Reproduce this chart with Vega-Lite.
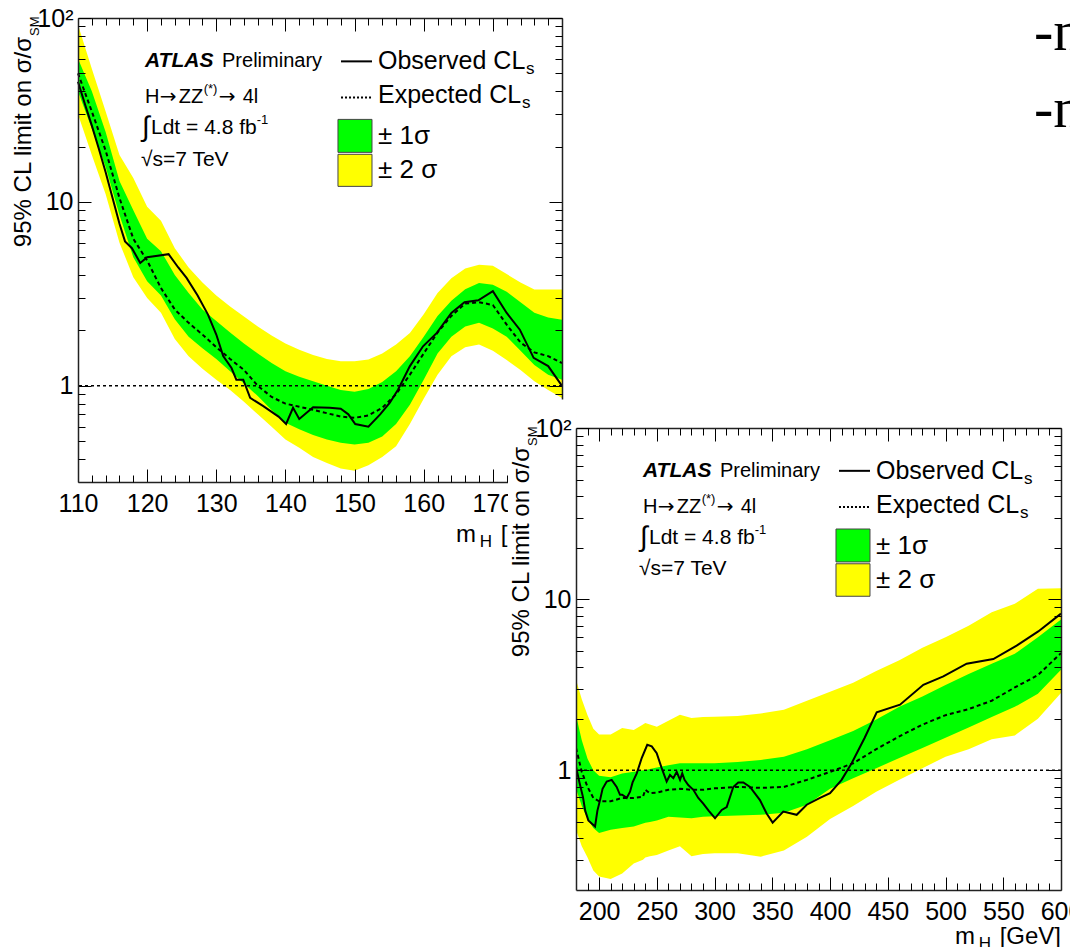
{
"$schema": "https://vega.github.io/schema/vega-lite/v6.json",
"background": "white",
"autosize": {"type": "pad"},
"padding": {"left": 12, "top": 6, "right": -12, "bottom": -5},
"config": {"view": {"stroke": null}, "font": "Liberation Sans"},
"columns": 2,
"spacing": {"row": 0, "column": 14},
"bounds": "flush",
"align": "each",
"datasets": {
"band1": [
{"x":110,"lo2":30,"lo1":40,"exp":50,"hi1":60,"hi2":92},
{"x":112,"lo2":18,"lo1":25,"exp":31,"hi1":40,"hi2":53},
{"x":114,"lo2":11,"lo1":15.5,"exp":19,"hi1":24,"hi2":31},
{"x":116,"lo2":6.0,"lo1":8.5,"exp":10.5,"hi1":13,"hi2":18},
{"x":118,"lo2":3.9,"lo1":5.0,"exp":6.3,"hi1":9.0,"hi2":13.5},
{"x":120,"lo2":3.0,"lo1":3.7,"exp":4.8,"hi1":6.3,"hi2":9.4},
{"x":122,"lo2":2.5,"lo1":3.1,"exp":3.4,"hi1":5.4,"hi2":7.9},
{"x":124,"lo2":1.8,"lo1":2.3,"exp":2.6,"hi1":4.0,"hi2":5.6},
{"x":126,"lo2":1.45,"lo1":1.85,"exp":2.2,"hi1":3.2,"hi2":4.4},
{"x":128,"lo2":1.24,"lo1":1.6,"exp":1.9,"hi1":2.6,"hi2":3.65},
{"x":130,"lo2":1.08,"lo1":1.4,"exp":1.62,"hi1":2.25,"hi2":3.1},
{"x":132,"lo2":0.95,"lo1":1.2,"exp":1.4,"hi1":1.95,"hi2":2.7},
{"x":134,"lo2":0.82,"lo1":1.03,"exp":1.22,"hi1":1.7,"hi2":2.38},
{"x":136,"lo2":0.70,"lo1":0.88,"exp":1.0,"hi1":1.5,"hi2":2.1},
{"x":138,"lo2":0.60,"lo1":0.74,"exp":0.87,"hi1":1.33,"hi2":1.88},
{"x":140,"lo2":0.51,"lo1":0.63,"exp":0.80,"hi1":1.2,"hi2":1.7},
{"x":142,"lo2":0.46,"lo1":0.58,"exp":0.77,"hi1":1.12,"hi2":1.57},
{"x":144,"lo2":0.41,"lo1":0.54,"exp":0.74,"hi1":1.06,"hi2":1.47},
{"x":146,"lo2":0.38,"lo1":0.51,"exp":0.71,"hi1":1.0,"hi2":1.40},
{"x":148,"lo2":0.355,"lo1":0.49,"exp":0.68,"hi1":0.95,"hi2":1.36},
{"x":150,"lo2":0.345,"lo1":0.48,"exp":0.67,"hi1":0.93,"hi2":1.36},
{"x":152,"lo2":0.37,"lo1":0.49,"exp":0.69,"hi1":0.96,"hi2":1.39},
{"x":154,"lo2":0.41,"lo1":0.53,"exp":0.76,"hi1":1.05,"hi2":1.5},
{"x":156,"lo2":0.47,"lo1":0.62,"exp":0.9,"hi1":1.2,"hi2":1.68},
{"x":158,"lo2":0.62,"lo1":0.79,"exp":1.15,"hi1":1.45,"hi2":1.94},
{"x":160,"lo2":0.85,"lo1":1.08,"exp":1.5,"hi1":1.85,"hi2":2.45},
{"x":162,"lo2":1.15,"lo1":1.5,"exp":1.95,"hi1":2.4,"hi2":3.2},
{"x":164,"lo2":1.45,"lo1":1.85,"exp":2.4,"hi1":2.9,"hi2":3.85},
{"x":166,"lo2":1.62,"lo1":2.1,"exp":2.8,"hi1":3.35,"hi2":4.35},
{"x":168,"lo2":1.68,"lo1":2.2,"exp":2.85,"hi1":3.62,"hi2":4.55},
{"x":170,"lo2":1.55,"lo1":2.05,"exp":2.75,"hi1":3.55,"hi2":4.5},
{"x":172,"lo2":1.38,"lo1":1.85,"exp":2.15,"hi1":3.25,"hi2":4.05},
{"x":174,"lo2":1.22,"lo1":1.55,"exp":1.72,"hi1":2.85,"hi2":3.65},
{"x":176,"lo2":1.06,"lo1":1.3,"exp":1.52,"hi1":2.5,"hi2":3.34},
{"x":178,"lo2":0.95,"lo1":1.15,"exp":1.45,"hi1":2.35,"hi2":3.34},
{"x":180,"lo2":0.86,"lo1":1.08,"exp":1.33,"hi1":2.29,"hi2":3.34}
],
"obs1": [
{"x":110,"y":45},{"x":111,"y":34},{"x":112,"y":26},{"x":113,"y":19.5},{"x":114,"y":14.5},{"x":115,"y":10.5},{"x":116,"y":7.6},{"x":116.8,"y":6.1},{"x":117.8,"y":5.6},{"x":119,"y":4.66},{"x":120,"y":5.0},{"x":123.1,"y":5.2},{"x":124.5,"y":4.4},{"x":125.7,"y":3.86},{"x":127.3,"y":3.1},{"x":128.8,"y":2.44},{"x":130,"y":1.9},{"x":131,"y":1.45},{"x":132.2,"y":1.25},{"x":132.9,"y":1.08},{"x":133.9,"y":1.08},{"x":134.9,"y":0.86},{"x":136.8,"y":0.775},{"x":139,"y":0.68},{"x":140.1,"y":0.62},{"x":141.1,"y":0.76},{"x":142,"y":0.66},{"x":144,"y":0.765},{"x":146.4,"y":0.76},{"x":148,"y":0.75},{"x":149.1,"y":0.70},{"x":150.1,"y":0.62},{"x":152,"y":0.60},{"x":153.7,"y":0.70},{"x":155.1,"y":0.81},{"x":156.3,"y":0.955},{"x":158,"y":1.28},{"x":159.9,"y":1.64},{"x":161.9,"y":1.94},{"x":164,"y":2.49},{"x":165.9,"y":2.85},{"x":167.9,"y":2.92},{"x":170,"y":3.27},{"x":172,"y":2.49},{"x":173.9,"y":2.02},{"x":175.9,"y":1.42},{"x":178,"y":1.28},{"x":180,"y":1.0}
],
"band2": [
{"x":180,"lo2":0.45,"lo1":0.78,"exp":1.35,"hi1":2.1,"hi2":3.4},
{"x":185,"lo2":0.36,"lo1":0.62,"exp":0.98,"hi1":1.5,"hi2":2.6},
{"x":190,"lo2":0.31,"lo1":0.52,"exp":0.8,"hi1":1.17,"hi2":2.1},
{"x":195,"lo2":0.26,"lo1":0.46,"exp":0.69,"hi1":1.0,"hi2":1.75},
{"x":200,"lo2":0.24,"lo1":0.43,"exp":0.66,"hi1":0.93,"hi2":1.62},
{"x":210,"lo2":0.232,"lo1":0.45,"exp":0.66,"hi1":0.91,"hi2":1.62},
{"x":220,"lo2":0.25,"lo1":0.46,"exp":0.69,"hi1":0.96,"hi2":1.77},
{"x":230,"lo2":0.286,"lo1":0.47,"exp":0.69,"hi1":0.98,"hi2":1.72},
{"x":238,"lo2":0.30,"lo1":0.49,"exp":0.70,"hi1":1.0,"hi2":1.85},
{"x":240,"lo2":0.31,"lo1":0.495,"exp":0.77,"hi1":1.0,"hi2":1.89},
{"x":244,"lo2":0.315,"lo1":0.50,"exp":0.735,"hi1":1.02,"hi2":1.85},
{"x":250,"lo2":0.32,"lo1":0.51,"exp":0.74,"hi1":1.04,"hi2":1.8},
{"x":260,"lo2":0.34,"lo1":0.535,"exp":0.77,"hi1":1.07,"hi2":1.95},
{"x":270,"lo2":0.36,"lo1":0.53,"exp":0.78,"hi1":1.1,"hi2":2.11},
{"x":280,"lo2":0.315,"lo1":0.525,"exp":0.77,"hi1":1.1,"hi2":2.02},
{"x":290,"lo2":0.325,"lo1":0.535,"exp":0.77,"hi1":1.1,"hi2":2.05},
{"x":300,"lo2":0.328,"lo1":0.54,"exp":0.785,"hi1":1.1,"hi2":2.06},
{"x":320,"lo2":0.328,"lo1":0.545,"exp":0.8,"hi1":1.12,"hi2":2.08},
{"x":340,"lo2":0.313,"lo1":0.55,"exp":0.79,"hi1":1.15,"hi2":2.15},
{"x":360,"lo2":0.34,"lo1":0.565,"exp":0.8,"hi1":1.2,"hi2":2.26},
{"x":380,"lo2":0.41,"lo1":0.63,"exp":0.88,"hi1":1.33,"hi2":2.55},
{"x":400,"lo2":0.52,"lo1":0.78,"exp":0.98,"hi1":1.5,"hi2":2.88},
{"x":420,"lo2":0.62,"lo1":0.9,"exp":1.1,"hi1":1.7,"hi2":3.25},
{"x":440,"lo2":0.75,"lo1":1.03,"exp":1.33,"hi1":1.98,"hi2":3.8},
{"x":460,"lo2":0.88,"lo1":1.18,"exp":1.58,"hi1":2.35,"hi2":4.4},
{"x":480,"lo2":1.03,"lo1":1.35,"exp":1.85,"hi1":2.7,"hi2":5.2},
{"x":500,"lo2":1.2,"lo1":1.55,"exp":2.1,"hi1":3.15,"hi2":6.0},
{"x":520,"lo2":1.33,"lo1":1.78,"exp":2.28,"hi1":3.65,"hi2":7.0},
{"x":540,"lo2":1.52,"lo1":2.05,"exp":2.55,"hi1":4.2,"hi2":8.4},
{"x":560,"lo2":1.6,"lo1":2.35,"exp":3.05,"hi1":4.8,"hi2":9.4},
{"x":580,"lo2":2.0,"lo1":2.8,"exp":3.6,"hi1":6.0,"hi2":11.5},
{"x":600,"lo2":2.83,"lo1":3.87,"exp":4.84,"hi1":7.6,"hi2":11.6}
],
"obs2": [
{"x":180,"y":1.05},{"x":183,"y":0.85},{"x":186,"y":0.7},{"x":188,"y":0.58},{"x":190.7,"y":0.51},{"x":193.6,"y":0.49},{"x":196.5,"y":0.47},{"x":198.5,"y":0.58},{"x":200.8,"y":0.67},{"x":203,"y":0.78},{"x":206.6,"y":0.86},{"x":210.9,"y":0.88},{"x":215.2,"y":0.80},{"x":218.1,"y":0.72},{"x":220,"y":0.72},{"x":223.9,"y":0.69},{"x":226.8,"y":0.75},{"x":229,"y":0.85},{"x":232.6,"y":0.96},{"x":236.9,"y":1.18},{"x":241.7,"y":1.41},{"x":245.6,"y":1.38},{"x":249.9,"y":1.26},{"x":254.2,"y":1.03},{"x":258.5,"y":0.86},{"x":261.4,"y":0.94},{"x":264.3,"y":0.90},{"x":267.2,"y":0.98},{"x":270.1,"y":0.88},{"x":272,"y":0.96},{"x":274,"y":0.88},{"x":277.2,"y":0.82},{"x":281.6,"y":0.77},{"x":285.9,"y":0.69},{"x":290.2,"y":0.64},{"x":295,"y":0.58},{"x":300.4,"y":0.525},{"x":306.2,"y":0.587},{"x":310.5,"y":0.61},{"x":316.2,"y":0.80},{"x":320.5,"y":0.85},{"x":324.9,"y":0.85},{"x":330.7,"y":0.80},{"x":339.3,"y":0.67},{"x":345.1,"y":0.56},{"x":350.3,"y":0.495},{"x":359.5,"y":0.574},{"x":371.1,"y":0.55},{"x":379.8,"y":0.63},{"x":391.3,"y":0.69},{"x":400,"y":0.735},{"x":410,"y":0.88},{"x":418.7,"y":1.10},{"x":430,"y":1.55},{"x":440.4,"y":2.18},{"x":460.6,"y":2.42},{"x":480.8,"y":3.16},{"x":498.1,"y":3.54},{"x":518.3,"y":4.2},{"x":541.4,"y":4.47},{"x":561.6,"y":5.35},{"x":580.3,"y":6.48},{"x":600,"y":8.23}
],
"leg1": [
{"x":119.69,"y":58.1,"t":"ATLAS","k":"atlas"},
{"x":130.83,"y":58.1,"t":"Preliminary","k":"txt"},
{"x":119.69,"y":37.0,"t":"H","k":"txt"},
{"x":121.82,"y":37.0,"t":"→","k":"arrow"},
{"x":124.56,"y":37.0,"t":"ZZ","k":"txt"},
{"x":128.18,"y":37.0,"t":"(*)","k":"sup"},
{"x":130.35,"y":37.0,"t":"→","k":"arrow"},
{"x":133.82,"y":37.0,"t":"4l","k":"txt"},
{"x":119.26,"y":25.1,"t":"∫","k":"int"},
{"x":120.56,"y":25.1,"t":"Ldt = 4.8 fb","k":"txt21"},
{"x":135.85,"y":25.1,"t":"-1","k":"sup"},
{"x":119.11,"y":17.0,"t":"√s=7 TeV","k":"txt21"},
{"x":153.39,"y":58.1,"t":"Observed CL","k":"big"},
{"x":174.80,"y":58.1,"t":"s","k":"sub"},
{"x":153.39,"y":37.96,"t":"Expected CL","k":"big"},
{"x":174.22,"y":37.96,"t":"s","k":"sub"},
{"x":153.39,"y":22.7,"t":"± 1σ","k":"big2"},
{"x":153.39,"y":14.85,"t":"± 2 σ","k":"big2"}
],
"leg2": [
{"x":238.02,"y":56.2,"t":"ATLAS","k":"atlas"},
{"x":304.70,"y":56.2,"t":"Preliminary","k":"txt"},
{"x":238.02,"y":34.6,"t":"H","k":"txt"},
{"x":250.75,"y":34.6,"t":"→","k":"arrow"},
{"x":267.20,"y":34.6,"t":"ZZ","k":"txt"},
{"x":288.85,"y":34.6,"t":"(*)","k":"sup"},
{"x":301.84,"y":34.6,"t":"→","k":"arrow"},
{"x":322.62,"y":34.6,"t":"4l","k":"txt"},
{"x":235.42,"y":22.8,"t":"∫","k":"int"},
{"x":243.21,"y":22.8,"t":"Ldt = 4.8 fb","k":"txt21"},
{"x":334.75,"y":22.8,"t":"-1","k":"sup"},
{"x":234.55,"y":15.0,"t":"√s=7 TeV","k":"txt21"},
{"x":439.78,"y":56.2,"t":"Observed CL","k":"big"},
{"x":567.95,"y":56.2,"t":"s","k":"sub"},
{"x":439.78,"y":35.6,"t":"Expected CL","k":"big"},
{"x":564.48,"y":35.6,"t":"s","k":"sub"},
{"x":439.78,"y":20.5,"t":"± 1σ","k":"big2"},
{"x":439.78,"y":12.95,"t":"± 2 σ","k":"big2"}
],
"legl1": [{"x":148.04,"x2":152.52,"y":58.1,"s":"obs"},{"x":148.04,"x2":152.52,"y":37.0,"s":"exp"}],
"legl2": [{"x":407.75,"x2":434.59,"y":56.2,"s":"obs"},{"x":407.75,"x2":434.59,"y":34.6,"s":"exp"}],
"legb1": [{"x":147.60,"x2":152.52,"y":28.1,"y2":18.6,"c":"g"},{"x":147.60,"x2":152.52,"y":18.15,"y2":12.15,"c":"y"}],
"legb2": [{"x":405.15,"x2":434.59,"y":25.7,"y2":16.5,"c":"g"},{"x":405.15,"x2":434.59,"y":16.1,"y2":10.4,"c":"y"}]
},
"concat": [
{
"width": 484, "height": 410,
"layer": [
{"data":{"name":"band1"},"mark":{"type":"area","color":"#ffff00"},
 "encoding":{
  "x":{"field":"x","type":"quantitative","scale":{"domain":[110,180],"nice":false,"zero":false},
       "axis":{"orient":"bottom","offset":54,"values":[110,120,130,140,150,160,170,180],"ticks":false,"domain":false,"grid":false,"labelFontSize":25,"labelFont":"Liberation Sans","labelColor":"black","labelPadding":9,"labelFlush":false,"labelOverlap":false,"format":"d","title":null,"zindex":1}},
  "y":{"field":"lo2","type":"quantitative","scale":{"type":"log","domain":[0.3,100],"nice":false,"range":[464,0]},
       "axis":{"orient":"left","values":[1,10,100],"ticks":false,"domain":false,"grid":false,"labelFontSize":25,"labelFont":"Liberation Sans","labelColor":"black","labelPadding":5,"labelFlush":false,"labelOverlap":false,"labelExpr":"datum.value >= 99 ? '10²' : datum.value >= 9 ? '10' : '1'","title":null,"zindex":1}},
  "y2":{"field":"hi2"}}},
{"data":{"name":"band1"},"mark":{"type":"area","color":"#00ff00"},
 "encoding":{
  "x":{"field":"x","type":"quantitative","scale":{"domain":[110,180],"nice":false,"zero":false},
       "axis":{"orient":"bottom","offset":54,"values":[110,120,130,140,150,160,170,180],"ticks":true,"tickSize":-13,"tickColor":"black","tickWidth":1,"labels":false,"domain":true,"domainColor":"#222","domainWidth":1.5,"grid":false,"title":null,"zindex":1}},
  "y":{"field":"lo1","type":"quantitative","scale":{"type":"log","domain":[0.3,100],"nice":false,"range":[464,0]},
       "axis":{"orient":"left","values":[1,10,100],"ticks":true,"tickSize":-13,"tickColor":"black","tickWidth":1,"labels":false,"domain":true,"domainColor":"#222","domainWidth":1.5,"grid":false,"title":null,"zindex":1}},
  "y2":{"field":"hi1"}}},
{"data":{"values":[{}]},"mark":{"type":"rule","color":"black","strokeWidth":1.5,"strokeDash":[3,3]},
 "encoding":{"y":{"datum":1,"type":"quantitative","scale":{"type":"log","domain":[0.3,100],"nice":false,"range":[464,0]},"axis":null}}},
{"data":{"name":"band1"},"mark":{"type":"line","color":"black","strokeWidth":2,"strokeDash":[4,3]},
 "encoding":{
  "x":{"field":"x","type":"quantitative","scale":{"domain":[110,180],"nice":false,"zero":false},
       "axis":{"orient":"bottom","offset":54,"values":[112,114,116,118,122,124,126,128,132,134,136,138,142,144,146,148,152,154,156,158,162,164,166,168,172,174,176,178],"ticks":true,"tickSize":-7,"tickColor":"black","tickWidth":1,"labels":false,"domain":false,"grid":false,"title":null,"zindex":1}},
  "y":{"field":"exp","type":"quantitative","scale":{"type":"log","domain":[0.3,100],"nice":false,"range":[464,0]},
       "axis":{"orient":"left","values":[0.4,0.5,0.6,0.7,0.8,0.9,2,3,4,5,6,7,8,9,20,30,40,50,60,70,80,90],"ticks":true,"tickSize":-7,"tickColor":"black","tickWidth":1,"labels":false,"domain":false,"grid":false,"title":null,"zindex":1}}}},
{"data":{"name":"obs1"},"mark":{"type":"line","color":"black","strokeWidth":2},
 "encoding":{
  "x":{"field":"x","type":"quantitative","scale":{"domain":[110,180],"nice":false,"zero":false},
       "axis":{"orient":"top","values":[110,120,130,140,150,160,170,180],"ticks":true,"tickSize":-13,"tickColor":"black","tickWidth":1,"labels":false,"domain":true,"domainColor":"#222","domainWidth":1.5,"grid":false,"title":null,"zindex":1}},
  "y":{"field":"y","type":"quantitative","scale":{"type":"log","domain":[0.3,100],"nice":false,"range":[464,0]},
       "axis":{"orient":"right","values":[1,10,100],"ticks":true,"tickSize":-13,"tickColor":"black","tickWidth":1,"labels":false,"domain":true,"domainColor":"#222","domainWidth":1.5,"grid":false,"title":null,"zindex":1}}}},
{"data":{"name":"legl1"},"transform":[{"filter":"datum.s === 'obs'"}],"mark":{"type":"rule","color":"black","strokeWidth":2},
 "encoding":{
  "x":{"field":"x","type":"quantitative","scale":{"domain":[110,180],"nice":false,"zero":false},
       "axis":{"orient":"top","values":[112,114,116,118,122,124,126,128,132,134,136,138,142,144,146,148,152,154,156,158,162,164,166,168,172,174,176,178],"ticks":true,"tickSize":-7,"tickColor":"black","tickWidth":1,"labels":false,"domain":false,"grid":false,"title":null,"zindex":1}},
  "x2":{"field":"x2"},
  "y":{"field":"y","type":"quantitative","scale":{"type":"log","domain":[0.3,100],"nice":false,"range":[464,0]},
       "axis":{"orient":"right","values":[0.4,0.5,0.6,0.7,0.8,0.9,2,3,4,5,6,7,8,9,20,30,40,50,60,70,80,90],"ticks":true,"tickSize":-7,"tickColor":"black","tickWidth":1,"labels":false,"domain":false,"grid":false,"title":null,"zindex":1}}}},
{"data":{"name":"legl1"},"transform":[{"filter":"datum.s === 'exp'"}],"mark":{"type":"rule","color":"black","strokeWidth":2,"strokeDash":[2,2]},
 "encoding":{
  "x":{"field":"x","type":"quantitative","scale":{"domain":[110,180],"nice":false,"zero":false},"axis":null},
  "x2":{"field":"x2"},
  "y":{"field":"y","type":"quantitative","scale":{"type":"log","domain":[0.3,100],"nice":false,"range":[464,0]},"axis":null}}},
{"data":{"name":"legb1"},"mark":{"type":"rect","stroke":"#444","strokeWidth":1},
 "encoding":{
  "x":{"field":"x","type":"quantitative","scale":{"domain":[110,180],"nice":false,"zero":false},"axis":null},
  "x2":{"field":"x2"},
  "y":{"field":"y","type":"quantitative","scale":{"type":"log","domain":[0.3,100],"nice":false,"range":[464,0]},"axis":null},
  "y2":{"field":"y2"},
  "color":{"field":"c","type":"nominal","scale":{"domain":["g","y"],"range":["#00ff00","#ffff00"]},"legend":null}}},
{"data":{"name":"leg1"},"transform":[{"filter":"datum.k === 'atlas'"}],"mark":{"type":"text","align":"left","baseline":"middle","fontSize":21,"fontWeight":"bold","fontStyle":"italic","color":"black"},
 "encoding":{"x":{"field":"x","type":"quantitative","scale":{"domain":[110,180],"nice":false,"zero":false},"axis":null},"y":{"field":"y","type":"quantitative","scale":{"type":"log","domain":[0.3,100],"nice":false,"range":[464,0]},"axis":null},"text":{"field":"t"}}},
{"data":{"name":"leg1"},"transform":[{"filter":"datum.k === 'txt'"}],"mark":{"type":"text","align":"left","baseline":"middle","fontSize":20,"color":"black"},
 "encoding":{"x":{"field":"x","type":"quantitative","scale":{"domain":[110,180],"nice":false,"zero":false},"axis":null},"y":{"field":"y","type":"quantitative","scale":{"type":"log","domain":[0.3,100],"nice":false,"range":[464,0]},"axis":null},"text":{"field":"t"}}},
{"data":{"name":"leg1"},"transform":[{"filter":"datum.k === 'arrow'"}],"mark":{"type":"text","align":"left","baseline":"middle","fontSize":20,"font":"DejaVu Sans","color":"black"},
 "encoding":{"x":{"field":"x","type":"quantitative","scale":{"domain":[110,180],"nice":false,"zero":false},"axis":null},"y":{"field":"y","type":"quantitative","scale":{"type":"log","domain":[0.3,100],"nice":false,"range":[464,0]},"axis":null},"text":{"field":"t"}}},
{"data":{"name":"leg1"},"transform":[{"filter":"datum.k === 'txt21'"}],"mark":{"type":"text","align":"left","baseline":"middle","fontSize":21,"color":"black"},
 "encoding":{"x":{"field":"x","type":"quantitative","scale":{"domain":[110,180],"nice":false,"zero":false},"axis":null},"y":{"field":"y","type":"quantitative","scale":{"type":"log","domain":[0.3,100],"nice":false,"range":[464,0]},"axis":null},"text":{"field":"t"}}},
{"data":{"name":"leg1"},"transform":[{"filter":"datum.k === 'sup'"}],"mark":{"type":"text","align":"left","baseline":"middle","fontSize":13,"dy":-8,"color":"black"},
 "encoding":{"x":{"field":"x","type":"quantitative","scale":{"domain":[110,180],"nice":false,"zero":false},"axis":null},"y":{"field":"y","type":"quantitative","scale":{"type":"log","domain":[0.3,100],"nice":false,"range":[464,0]},"axis":null},"text":{"field":"t"}}},
{"data":{"name":"leg1"},"transform":[{"filter":"datum.k === 'int'"}],"mark":{"type":"text","align":"left","baseline":"middle","fontSize":28,"color":"black"},
 "encoding":{"x":{"field":"x","type":"quantitative","scale":{"domain":[110,180],"nice":false,"zero":false},"axis":null},"y":{"field":"y","type":"quantitative","scale":{"type":"log","domain":[0.3,100],"nice":false,"range":[464,0]},"axis":null},"text":{"field":"t"}}},
{"data":{"name":"leg1"},"transform":[{"filter":"datum.k === 'big'"}],"mark":{"type":"text","align":"left","baseline":"middle","fontSize":25,"color":"black"},
 "encoding":{"x":{"field":"x","type":"quantitative","scale":{"domain":[110,180],"nice":false,"zero":false},"axis":null},"y":{"field":"y","type":"quantitative","scale":{"type":"log","domain":[0.3,100],"nice":false,"range":[464,0]},"axis":null},"text":{"field":"t"}}},
{"data":{"name":"leg1"},"transform":[{"filter":"datum.k === 'sub'"}],"mark":{"type":"text","align":"left","baseline":"middle","fontSize":17,"dy":8,"color":"black"},
 "encoding":{"x":{"field":"x","type":"quantitative","scale":{"domain":[110,180],"nice":false,"zero":false},"axis":null},"y":{"field":"y","type":"quantitative","scale":{"type":"log","domain":[0.3,100],"nice":false,"range":[464,0]},"axis":null},"text":{"field":"t"}}},
{"data":{"name":"leg1"},"transform":[{"filter":"datum.k === 'big2'"}],"mark":{"type":"text","align":"left","baseline":"middle","fontSize":26,"color":"black"},
 "encoding":{"x":{"field":"x","type":"quantitative","scale":{"domain":[110,180],"nice":false,"zero":false},"axis":null},"y":{"field":"y","type":"quantitative","scale":{"type":"log","domain":[0.3,100],"nice":false,"range":[464,0]},"axis":null},"text":{"field":"t"}}},
{"data":{"values":[{}]},"mark":{"type":"text","text":"95% CL limit on σ/σ","angle":270,"align":"right","baseline":"alphabetic","fontSize":24,"dx":-19,"dy":-47,"color":"black"},
 "encoding":{"x":{"datum":110,"type":"quantitative","scale":{"domain":[110,180],"nice":false,"zero":false},"axis":null},"y":{"datum":100,"type":"quantitative","scale":{"type":"log","domain":[0.3,100],"nice":false,"range":[464,0]},"axis":null}}},
{"data":{"values":[{}]},"mark":{"type":"text","text":"SM","angle":270,"align":"right","baseline":"alphabetic","fontSize":13,"dx":1.6,"dy":-39,"color":"black"},
 "encoding":{"x":{"datum":110,"type":"quantitative","scale":{"domain":[110,180],"nice":false,"zero":false},"axis":null},"y":{"datum":100,"type":"quantitative","scale":{"type":"log","domain":[0.3,100],"nice":false,"range":[464,0]},"axis":null}}},
{"data":{"values":[{}]},"mark":{"type":"text","text":"[GeV]","align":"right","baseline":"alphabetic","fontSize":24,"dy":60,"color":"black"},
 "encoding":{"x":{"datum":180,"type":"quantitative","scale":{"domain":[110,180],"nice":false,"zero":false},"axis":null},"y":{"datum":0.3,"type":"quantitative","scale":{"type":"log","domain":[0.3,100],"nice":false,"range":[464,0]},"axis":null}}},
{"data":{"values":[{}]},"mark":{"type":"text","text":"H","align":"right","baseline":"alphabetic","fontSize":17,"dx":-70,"dy":65,"color":"black"},
 "encoding":{"x":{"datum":180,"type":"quantitative","scale":{"domain":[110,180],"nice":false,"zero":false},"axis":null},"y":{"datum":0.3,"type":"quantitative","scale":{"type":"log","domain":[0.3,100],"nice":false,"range":[464,0]},"axis":null}}},
{"data":{"values":[{}]},"mark":{"type":"text","text":"m","align":"right","baseline":"alphabetic","fontSize":24,"dx":-86,"dy":60,"color":"black"},
 "encoding":{"x":{"datum":180,"type":"quantitative","scale":{"domain":[110,180],"nice":false,"zero":false},"axis":null},"y":{"datum":0.3,"type":"quantitative","scale":{"type":"log","domain":[0.3,100],"nice":false,"range":[464,0]},"axis":null}}}
],
"resolve": {"axis": {"x": "independent", "y": "independent"}}
},
{
"width": 494, "height": 150,
"data": {"values": [{"fx":0.927,"fy":0.789,"t":"-n"},{"fx":0.927,"fy":0.275,"t":"-n"}]},
"mark": {"type":"text","font":"Liberation Serif","fontSize":58,"align":"left","baseline":"alphabetic","color":"black","clip":true},
"encoding": {
 "x":{"field":"fx","type":"quantitative","scale":{"domain":[0,1],"nice":false},"axis":null},
 "y":{"field":"fy","type":"quantitative","scale":{"domain":[0,1],"nice":false},"axis":null},
 "text":{"field":"t"}}
},
{
"width": 1, "height": 1,
"data": {"values": [{"a":1}]},
"mark": {"type":"point","opacity":0}
},
{
"width": 485, "height": 462,
"layer": [
{"data":{"values":[{}]},"mark":{"type":"rect","color":"white","clip":false},
 "encoding":{
  "x":{"datum":121.1,"type":"quantitative","scale":{"domain":[180,600],"nice":false,"zero":false},"axis":null},
  "x2":{"datum":600},
  "y":{"datum":0.2,"type":"quantitative","scale":{"type":"log","domain":[0.2,100],"nice":false},"axis":null},
  "y2":{"datum":146.8}}},
{"data":{"name":"band2"},"mark":{"type":"area","color":"#ffff00","clip":true},
 "encoding":{
  "x":{"field":"x","type":"quantitative","scale":{"domain":[180,600],"nice":false,"zero":false},
       "axis":{"orient":"bottom","values":[200,250,300,350,400,450,500,550,600],"ticks":false,"domain":false,"grid":false,"labelFontSize":25,"labelFont":"Liberation Sans","labelColor":"black","labelPadding":9,"labelFlush":false,"labelOverlap":false,"format":"d","title":null,"zindex":1}},
  "y":{"field":"lo2","type":"quantitative","scale":{"type":"log","domain":[0.2,100],"nice":false},
       "axis":{"orient":"left","values":[1,10,100],"ticks":false,"domain":false,"grid":false,"labelFontSize":25,"labelFont":"Liberation Sans","labelColor":"black","labelPadding":5,"labelFlush":false,"labelOverlap":false,"labelExpr":"datum.value >= 99 ? '10²' : datum.value >= 9 ? '10' : '1'","title":null,"zindex":1}},
  "y2":{"field":"hi2"}}},
{"data":{"name":"band2"},"mark":{"type":"area","color":"#00ff00","clip":true},
 "encoding":{
  "x":{"field":"x","type":"quantitative","scale":{"domain":[180,600],"nice":false,"zero":false},
       "axis":{"orient":"bottom","values":[200,250,300,350,400,450,500,550,600],"ticks":true,"tickSize":-13,"tickColor":"black","tickWidth":1,"labels":false,"domain":true,"domainColor":"#222","domainWidth":1.5,"grid":false,"title":null,"zindex":1}},
  "y":{"field":"lo1","type":"quantitative","scale":{"type":"log","domain":[0.2,100],"nice":false},
       "axis":{"orient":"left","values":[1,10,100],"ticks":true,"tickSize":-13,"tickColor":"black","tickWidth":1,"labels":false,"domain":true,"domainColor":"#222","domainWidth":1.5,"grid":false,"title":null,"zindex":1}},
  "y2":{"field":"hi1"}}},
{"data":{"values":[{}]},"mark":{"type":"rule","color":"black","strokeWidth":1.5,"strokeDash":[3,3]},
 "encoding":{"y":{"datum":1,"type":"quantitative","scale":{"type":"log","domain":[0.2,100],"nice":false},"axis":null}}},
{"data":{"name":"band2"},"mark":{"type":"line","color":"black","strokeWidth":2,"strokeDash":[4,3],"clip":true},
 "encoding":{
  "x":{"field":"x","type":"quantitative","scale":{"domain":[180,600],"nice":false,"zero":false},
       "axis":{"orient":"bottom","values":[190,210,220,230,240,260,270,280,290,310,320,330,340,360,370,380,390,410,420,430,440,460,470,480,490,510,520,530,540,560,570,580,590],"ticks":true,"tickSize":-7,"tickColor":"black","tickWidth":1,"labels":false,"domain":false,"grid":false,"title":null,"zindex":1}},
  "y":{"field":"exp","type":"quantitative","scale":{"type":"log","domain":[0.2,100],"nice":false},
       "axis":{"orient":"left","values":[0.3,0.4,0.5,0.6,0.7,0.8,0.9,2,3,4,5,6,7,8,9,20,30,40,50,60,70,80,90],"ticks":true,"tickSize":-7,"tickColor":"black","tickWidth":1,"labels":false,"domain":false,"grid":false,"title":null,"zindex":1}}}},
{"data":{"name":"obs2"},"mark":{"type":"line","color":"black","strokeWidth":2,"clip":true},
 "encoding":{
  "x":{"field":"x","type":"quantitative","scale":{"domain":[180,600],"nice":false,"zero":false},
       "axis":{"orient":"top","values":[200,250,300,350,400,450,500,550,600],"ticks":true,"tickSize":-13,"tickColor":"black","tickWidth":1,"labels":false,"domain":true,"domainColor":"#222","domainWidth":1.5,"grid":false,"title":null,"zindex":1}},
  "y":{"field":"y","type":"quantitative","scale":{"type":"log","domain":[0.2,100],"nice":false},
       "axis":{"orient":"right","values":[1,10,100],"ticks":true,"tickSize":-13,"tickColor":"black","tickWidth":1,"labels":false,"domain":true,"domainColor":"#222","domainWidth":1.5,"grid":false,"title":null,"zindex":1}}}},
{"data":{"name":"legl2"},"transform":[{"filter":"datum.s === 'obs'"}],"mark":{"type":"rule","color":"black","strokeWidth":2},
 "encoding":{
  "x":{"field":"x","type":"quantitative","scale":{"domain":[180,600],"nice":false,"zero":false},
       "axis":{"orient":"top","values":[190,210,220,230,240,260,270,280,290,310,320,330,340,360,370,380,390,410,420,430,440,460,470,480,490,510,520,530,540,560,570,580,590],"ticks":true,"tickSize":-7,"tickColor":"black","tickWidth":1,"labels":false,"domain":false,"grid":false,"title":null,"zindex":1}},
  "x2":{"field":"x2"},
  "y":{"field":"y","type":"quantitative","scale":{"type":"log","domain":[0.2,100],"nice":false},
       "axis":{"orient":"right","values":[0.3,0.4,0.5,0.6,0.7,0.8,0.9,2,3,4,5,6,7,8,9,20,30,40,50,60,70,80,90],"ticks":true,"tickSize":-7,"tickColor":"black","tickWidth":1,"labels":false,"domain":false,"grid":false,"title":null,"zindex":1}}}},
{"data":{"name":"legl2"},"transform":[{"filter":"datum.s === 'exp'"}],"mark":{"type":"rule","color":"black","strokeWidth":2,"strokeDash":[2,2]},
 "encoding":{
  "x":{"field":"x","type":"quantitative","scale":{"domain":[180,600],"nice":false,"zero":false},"axis":null},
  "x2":{"field":"x2"},
  "y":{"field":"y","type":"quantitative","scale":{"type":"log","domain":[0.2,100],"nice":false},"axis":null}}},
{"data":{"name":"legb2"},"mark":{"type":"rect","stroke":"#444","strokeWidth":1},
 "encoding":{
  "x":{"field":"x","type":"quantitative","scale":{"domain":[180,600],"nice":false,"zero":false},"axis":null},
  "x2":{"field":"x2"},
  "y":{"field":"y","type":"quantitative","scale":{"type":"log","domain":[0.2,100],"nice":false},"axis":null},
  "y2":{"field":"y2"},
  "color":{"field":"c","type":"nominal","scale":{"domain":["g","y"],"range":["#00ff00","#ffff00"]},"legend":null}}},
{"data":{"name":"leg2"},"transform":[{"filter":"datum.k === 'atlas'"}],"mark":{"type":"text","align":"left","baseline":"middle","fontSize":21,"fontWeight":"bold","fontStyle":"italic","color":"black"},
 "encoding":{"x":{"field":"x","type":"quantitative","scale":{"domain":[180,600],"nice":false,"zero":false},"axis":null},"y":{"field":"y","type":"quantitative","scale":{"type":"log","domain":[0.2,100],"nice":false},"axis":null},"text":{"field":"t"}}},
{"data":{"name":"leg2"},"transform":[{"filter":"datum.k === 'txt'"}],"mark":{"type":"text","align":"left","baseline":"middle","fontSize":20,"color":"black"},
 "encoding":{"x":{"field":"x","type":"quantitative","scale":{"domain":[180,600],"nice":false,"zero":false},"axis":null},"y":{"field":"y","type":"quantitative","scale":{"type":"log","domain":[0.2,100],"nice":false},"axis":null},"text":{"field":"t"}}},
{"data":{"name":"leg2"},"transform":[{"filter":"datum.k === 'arrow'"}],"mark":{"type":"text","align":"left","baseline":"middle","fontSize":20,"font":"DejaVu Sans","color":"black"},
 "encoding":{"x":{"field":"x","type":"quantitative","scale":{"domain":[180,600],"nice":false,"zero":false},"axis":null},"y":{"field":"y","type":"quantitative","scale":{"type":"log","domain":[0.2,100],"nice":false},"axis":null},"text":{"field":"t"}}},
{"data":{"name":"leg2"},"transform":[{"filter":"datum.k === 'txt21'"}],"mark":{"type":"text","align":"left","baseline":"middle","fontSize":21,"color":"black"},
 "encoding":{"x":{"field":"x","type":"quantitative","scale":{"domain":[180,600],"nice":false,"zero":false},"axis":null},"y":{"field":"y","type":"quantitative","scale":{"type":"log","domain":[0.2,100],"nice":false},"axis":null},"text":{"field":"t"}}},
{"data":{"name":"leg2"},"transform":[{"filter":"datum.k === 'sup'"}],"mark":{"type":"text","align":"left","baseline":"middle","fontSize":13,"dy":-8,"color":"black"},
 "encoding":{"x":{"field":"x","type":"quantitative","scale":{"domain":[180,600],"nice":false,"zero":false},"axis":null},"y":{"field":"y","type":"quantitative","scale":{"type":"log","domain":[0.2,100],"nice":false},"axis":null},"text":{"field":"t"}}},
{"data":{"name":"leg2"},"transform":[{"filter":"datum.k === 'int'"}],"mark":{"type":"text","align":"left","baseline":"middle","fontSize":28,"color":"black"},
 "encoding":{"x":{"field":"x","type":"quantitative","scale":{"domain":[180,600],"nice":false,"zero":false},"axis":null},"y":{"field":"y","type":"quantitative","scale":{"type":"log","domain":[0.2,100],"nice":false},"axis":null},"text":{"field":"t"}}},
{"data":{"name":"leg2"},"transform":[{"filter":"datum.k === 'big'"}],"mark":{"type":"text","align":"left","baseline":"middle","fontSize":25,"color":"black"},
 "encoding":{"x":{"field":"x","type":"quantitative","scale":{"domain":[180,600],"nice":false,"zero":false},"axis":null},"y":{"field":"y","type":"quantitative","scale":{"type":"log","domain":[0.2,100],"nice":false},"axis":null},"text":{"field":"t"}}},
{"data":{"name":"leg2"},"transform":[{"filter":"datum.k === 'sub'"}],"mark":{"type":"text","align":"left","baseline":"middle","fontSize":17,"dy":8,"color":"black"},
 "encoding":{"x":{"field":"x","type":"quantitative","scale":{"domain":[180,600],"nice":false,"zero":false},"axis":null},"y":{"field":"y","type":"quantitative","scale":{"type":"log","domain":[0.2,100],"nice":false},"axis":null},"text":{"field":"t"}}},
{"data":{"name":"leg2"},"transform":[{"filter":"datum.k === 'big2'"}],"mark":{"type":"text","align":"left","baseline":"middle","fontSize":26,"color":"black"},
 "encoding":{"x":{"field":"x","type":"quantitative","scale":{"domain":[180,600],"nice":false,"zero":false},"axis":null},"y":{"field":"y","type":"quantitative","scale":{"type":"log","domain":[0.2,100],"nice":false},"axis":null},"text":{"field":"t"}}},
{"data":{"values":[{}]},"mark":{"type":"text","text":"95% CL limit on σ/σ","angle":270,"align":"right","baseline":"alphabetic","fontSize":24,"dx":-19,"dy":-47,"color":"black"},
 "encoding":{"x":{"datum":180,"type":"quantitative","scale":{"domain":[180,600],"nice":false,"zero":false},"axis":null},"y":{"datum":100,"type":"quantitative","scale":{"type":"log","domain":[0.2,100],"nice":false},"axis":null}}},
{"data":{"values":[{}]},"mark":{"type":"text","text":"SM","angle":270,"align":"right","baseline":"alphabetic","fontSize":13,"dx":1.6,"dy":-39,"color":"black"},
 "encoding":{"x":{"datum":180,"type":"quantitative","scale":{"domain":[180,600],"nice":false,"zero":false},"axis":null},"y":{"datum":100,"type":"quantitative","scale":{"type":"log","domain":[0.2,100],"nice":false},"axis":null}}},
{"data":{"values":[{}]},"mark":{"type":"text","text":"[GeV]","align":"right","baseline":"alphabetic","fontSize":24,"dy":54,"color":"black"},
 "encoding":{"x":{"datum":600,"type":"quantitative","scale":{"domain":[180,600],"nice":false,"zero":false},"axis":null},"y":{"datum":0.2,"type":"quantitative","scale":{"type":"log","domain":[0.2,100],"nice":false},"axis":null}}},
{"data":{"values":[{}]},"mark":{"type":"text","text":"H","align":"right","baseline":"alphabetic","fontSize":17,"dx":-70,"dy":59,"color":"black"},
 "encoding":{"x":{"datum":600,"type":"quantitative","scale":{"domain":[180,600],"nice":false,"zero":false},"axis":null},"y":{"datum":0.2,"type":"quantitative","scale":{"type":"log","domain":[0.2,100],"nice":false},"axis":null}}},
{"data":{"values":[{}]},"mark":{"type":"text","text":"m","align":"right","baseline":"alphabetic","fontSize":24,"dx":-86,"dy":54,"color":"black"},
 "encoding":{"x":{"datum":600,"type":"quantitative","scale":{"domain":[180,600],"nice":false,"zero":false},"axis":null},"y":{"datum":0.2,"type":"quantitative","scale":{"type":"log","domain":[0.2,100],"nice":false},"axis":null}}}
],
"resolve": {"axis": {"x": "independent", "y": "independent"}}
}
]
}
